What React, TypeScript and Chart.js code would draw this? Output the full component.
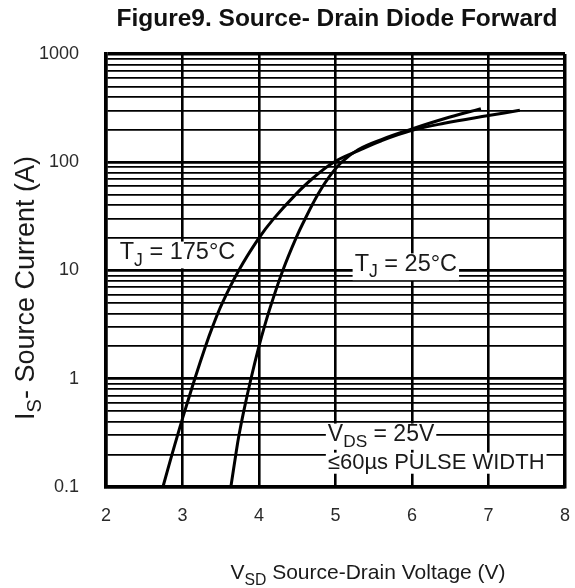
import React, { useEffect, useRef } from 'react';
import { Chart, registerables } from 'chart.js';

Chart.register(...registerables);

// ---- Data: TJ = 175°C curve (V_SD in volts, I_S in amps)
const VSD_175: number[] = [2.744, 2.863, 2.935, 2.987, 3.161, 3.301, 3.391, 3.52, 3.735, 4.0, 4.19, 4.475, 4.692, 4.978, 5.3, 5.6, 6.0, 6.42, 7.0, 7.41];
const IS_175: number[] = [0.1, 0.2, 0.3, 0.4, 1, 2, 3, 5, 10, 20, 30, 50, 70, 100, 128, 158, 197, 229, 270, 302];

// ---- Data: TJ = 25°C curve
const VSD_25: number[] = [3.632, 3.697, 3.738, 3.8, 3.895, 4.0, 4.069, 4.165, 4.311, 4.485, 4.603, 4.767, 4.897, 5.079, 5.3, 5.6, 6.0, 6.42, 6.9];
const IS_25: number[] = [0.1, 0.2, 0.3, 0.5, 1, 2, 3, 5, 10, 20, 30, 50, 70, 100, 131, 162, 203, 252, 313];

// ---- Axes
const X_MIN = 2;
const X_MAX = 8;
const X_TICKS: number[] = [2, 3, 4, 5, 6, 7, 8];
const Y_DECADES: number[] = [0.1, 1, 10, 100, 1000];
const Y_DECADE_LABELS: string[] = ['0.1', '1', '10', '100', '1000'];
const Y_MINOR_MULTIPLIERS: number[] = [1, 2, 3, 4, 5, 6, 7, 8, 9];

// ---- Texts
type Part = [string, boolean]; // [text, isSubscript]
const TITLE = 'Figure9. Source- Drain Diode Forward';
const X_TITLE: Part[] = [['V', false], ['SD', true], [' Source-Drain Voltage (V)', false]];
const Y_TITLE: Part[] = [['I', false], ['S', true], ['- Source Current (A)', false]];

type Note = { parts: Part[]; x: number; y: number; size: number };
const NOTES: Note[] = [
  { parts: [['T', false], ['J', true], [' = 175°C', false]], x: 2.18, y: 15.3, size: 23.5 },
  { parts: [['T', false], ['J', true], [' = 25°C', false]], x: 5.25, y: 11.9, size: 23.5 },
  { parts: [['V', false], ['DS', true], [' = 25V', false]], x: 4.9, y: 0.32, size: 23 },
  { parts: [['≤60µs PULSE WIDTH', false]], x: 4.9, y: 0.174, size: 22 },
];

const FAMILY = "'Liberation Sans', Arial, Helvetica, sans-serif";

const Y_GRID: number[] = (() => {
  const out: number[] = [];
  for (let i = 0; i < Y_DECADES.length - 1; i++) {
    for (const m of Y_MINOR_MULTIPLIERS) out.push(parseFloat((Y_DECADES[i] * m).toPrecision(6)));
  }
  out.push(Y_DECADES[Y_DECADES.length - 1]);
  return out;
})();

const isDecade = (v: number) => Y_DECADES.some((d) => Math.abs(d - v) / d < 1e-6);

function fontOf(size: number, bold = false) {
  return `${bold ? 'bold ' : ''}${size}px ${FAMILY}`;
}

function measureParts(ctx: CanvasRenderingContext2D, parts: Part[], size: number) {
  let w = 0;
  for (const [t, sub] of parts) {
    ctx.font = fontOf(sub ? size * 0.75 : size);
    w += ctx.measureText(t).width;
  }
  return w;
}

function drawParts(ctx: CanvasRenderingContext2D, parts: Part[], x: number, baseline: number, size: number, color: string) {
  let cx = x;
  ctx.fillStyle = color;
  ctx.textAlign = 'left';
  ctx.textBaseline = 'alphabetic';
  for (const [t, sub] of parts) {
    const s = sub ? size * 0.75 : size;
    ctx.font = fontOf(s);
    ctx.fillText(t, cx, sub ? baseline + size * 0.28 : baseline);
    cx += ctx.measureText(t).width;
  }
}

const textPlugin = {
  id: 'figureTexts',
  beforeDatasetsDraw(chart: any) {
    const ctx: CanvasRenderingContext2D = chart.ctx;
    const xs = chart.scales.x;
    const ys = chart.scales.y;
    ctx.save();
    for (const n of NOTES) {
      const size = n.size;
      const px = xs.getPixelForValue(n.x);
      const py = ys.getPixelForValue(n.y);
      const baseline = py + size * 0.36;
      const w = measureParts(ctx, n.parts, size);
      const hasSub = n.parts.some((p) => p[1]);
      const top = baseline - size * 0.74;
      const bottom = baseline + (hasSub ? 0.4 : 0.22) * size;
      ctx.fillStyle = '#ffffff';
      ctx.fillRect(px - 2, top, w + 4, bottom - top);
      drawParts(ctx, n.parts, px, baseline, size, '#1a1a1a');
    }
    ctx.restore();
  },
  afterDraw(chart: any) {
    const ctx: CanvasRenderingContext2D = chart.ctx;
    ctx.save();
    // Title
    ctx.font = fontOf(24.5, true);
    ctx.fillStyle = '#111';
    ctx.textAlign = 'center';
    ctx.textBaseline = 'alphabetic';
    ctx.fillText(TITLE, 337, 26);

    // X title
    const xs = 21;
    const wx = measureParts(ctx, X_TITLE, xs);
    drawParts(ctx, X_TITLE, 368 - wx / 2, 579, xs, '#1a1a1a');

    // Y title (rotated)
    const ysz = 27;
    const wy = measureParts(ctx, Y_TITLE, ysz);
    ctx.translate(24, 288);
    ctx.rotate(-Math.PI / 2);
    drawParts(ctx, Y_TITLE, -wy / 2, ysz * 0.36, ysz, '#1a1a1a');
    ctx.restore();
  },
};

export default function App() {
  const ref = useRef<HTMLCanvasElement | null>(null);

  useEffect(() => {
    if (!ref.current) return;
    const chart = new Chart(ref.current, {
      type: 'line',
      data: {
        datasets: [
          {
            label: 'TJ = 175°C',
            data: VSD_175.map((v, i) => ({ x: v, y: IS_175[i] })),
            borderColor: '#000',
            borderWidth: 3,
            pointRadius: 0,
            fill: false,
            tension: 0.4,
          },
          {
            label: 'TJ = 25°C',
            data: VSD_25.map((v, i) => ({ x: v, y: IS_25[i] })),
            borderColor: '#000',
            borderWidth: 3,
            pointRadius: 0,
            fill: false,
            tension: 0.4,
          },
        ],
      },
      options: {
        responsive: false,
        animation: false,
        devicePixelRatio: 1,
        layout: { padding: { top: 54, right: 10, left: 0, bottom: 0 } },
        plugins: {
          legend: { display: false },
          title: { display: false },
          tooltip: { enabled: false },
        },
        scales: {
          x: {
            type: 'linear',
            min: X_MIN,
            max: X_MAX,
            afterBuildTicks: (scale: any) => {
              scale.ticks = X_TICKS.map((v) => ({ value: v }));
            },
            afterFit: (scale: any) => {
              scale.height = 101;
            },
            ticks: {
              autoSkip: false,
              maxRotation: 0,
              padding: 3,
              color: '#2a2a2a',
              font: { family: FAMILY, size: 18 },
              callback: (v: any) => String(v),
            },
            grid: {
              color: '#000',
              drawTicks: true,
              tickLength: 15,
              tickColor: 'rgba(0,0,0,0)',
              lineWidth: (c: any) => {
                const v = c.tick ? c.tick.value : 0;
                return v === X_MIN || v === X_MAX ? 3.5 : 2.6;
              },
            },
            border: { display: true, color: '#000', width: 3.5 },
          },
          y: {
            type: 'logarithmic',
            min: Y_DECADES[0],
            max: Y_DECADES[Y_DECADES.length - 1],
            afterBuildTicks: (scale: any) => {
              scale.ticks = Y_GRID.map((v) => ({ value: v, major: isDecade(v) }));
            },
            afterFit: (scale: any) => {
              scale.width = 106;
            },
            ticks: {
              autoSkip: false,
              padding: 27,
              color: '#2a2a2a',
              font: { family: FAMILY, size: 18 },
              callback: (v: any) => {
                const idx = Y_DECADES.findIndex((d) => Math.abs(d - v) / d < 1e-6);
                return idx >= 0 ? Y_DECADE_LABELS[idx] : '';
              },
            },
            grid: {
              color: '#000',
              drawTicks: false,
              lineWidth: (c: any) => {
                const v = c.tick ? c.tick.value : 0;
                if (v === Y_DECADES[0] || v === Y_DECADES[Y_DECADES.length - 1]) return 3.5;
                return isDecade(v) ? 2.7 : 1.8;
              },
            },
            border: { display: true, color: '#000', width: 3.5 },
          },
        },
      },
      plugins: [textPlugin],
    } as any);
    return () => chart.destroy();
  }, []);

  return (
    <div style={{ position: 'absolute', left: 0, top: 0, width: 575, height: 588, background: '#fff' }}>
      <canvas ref={ref} width={575} height={588} style={{ display: 'block' }} />
    </div>
  );
}
